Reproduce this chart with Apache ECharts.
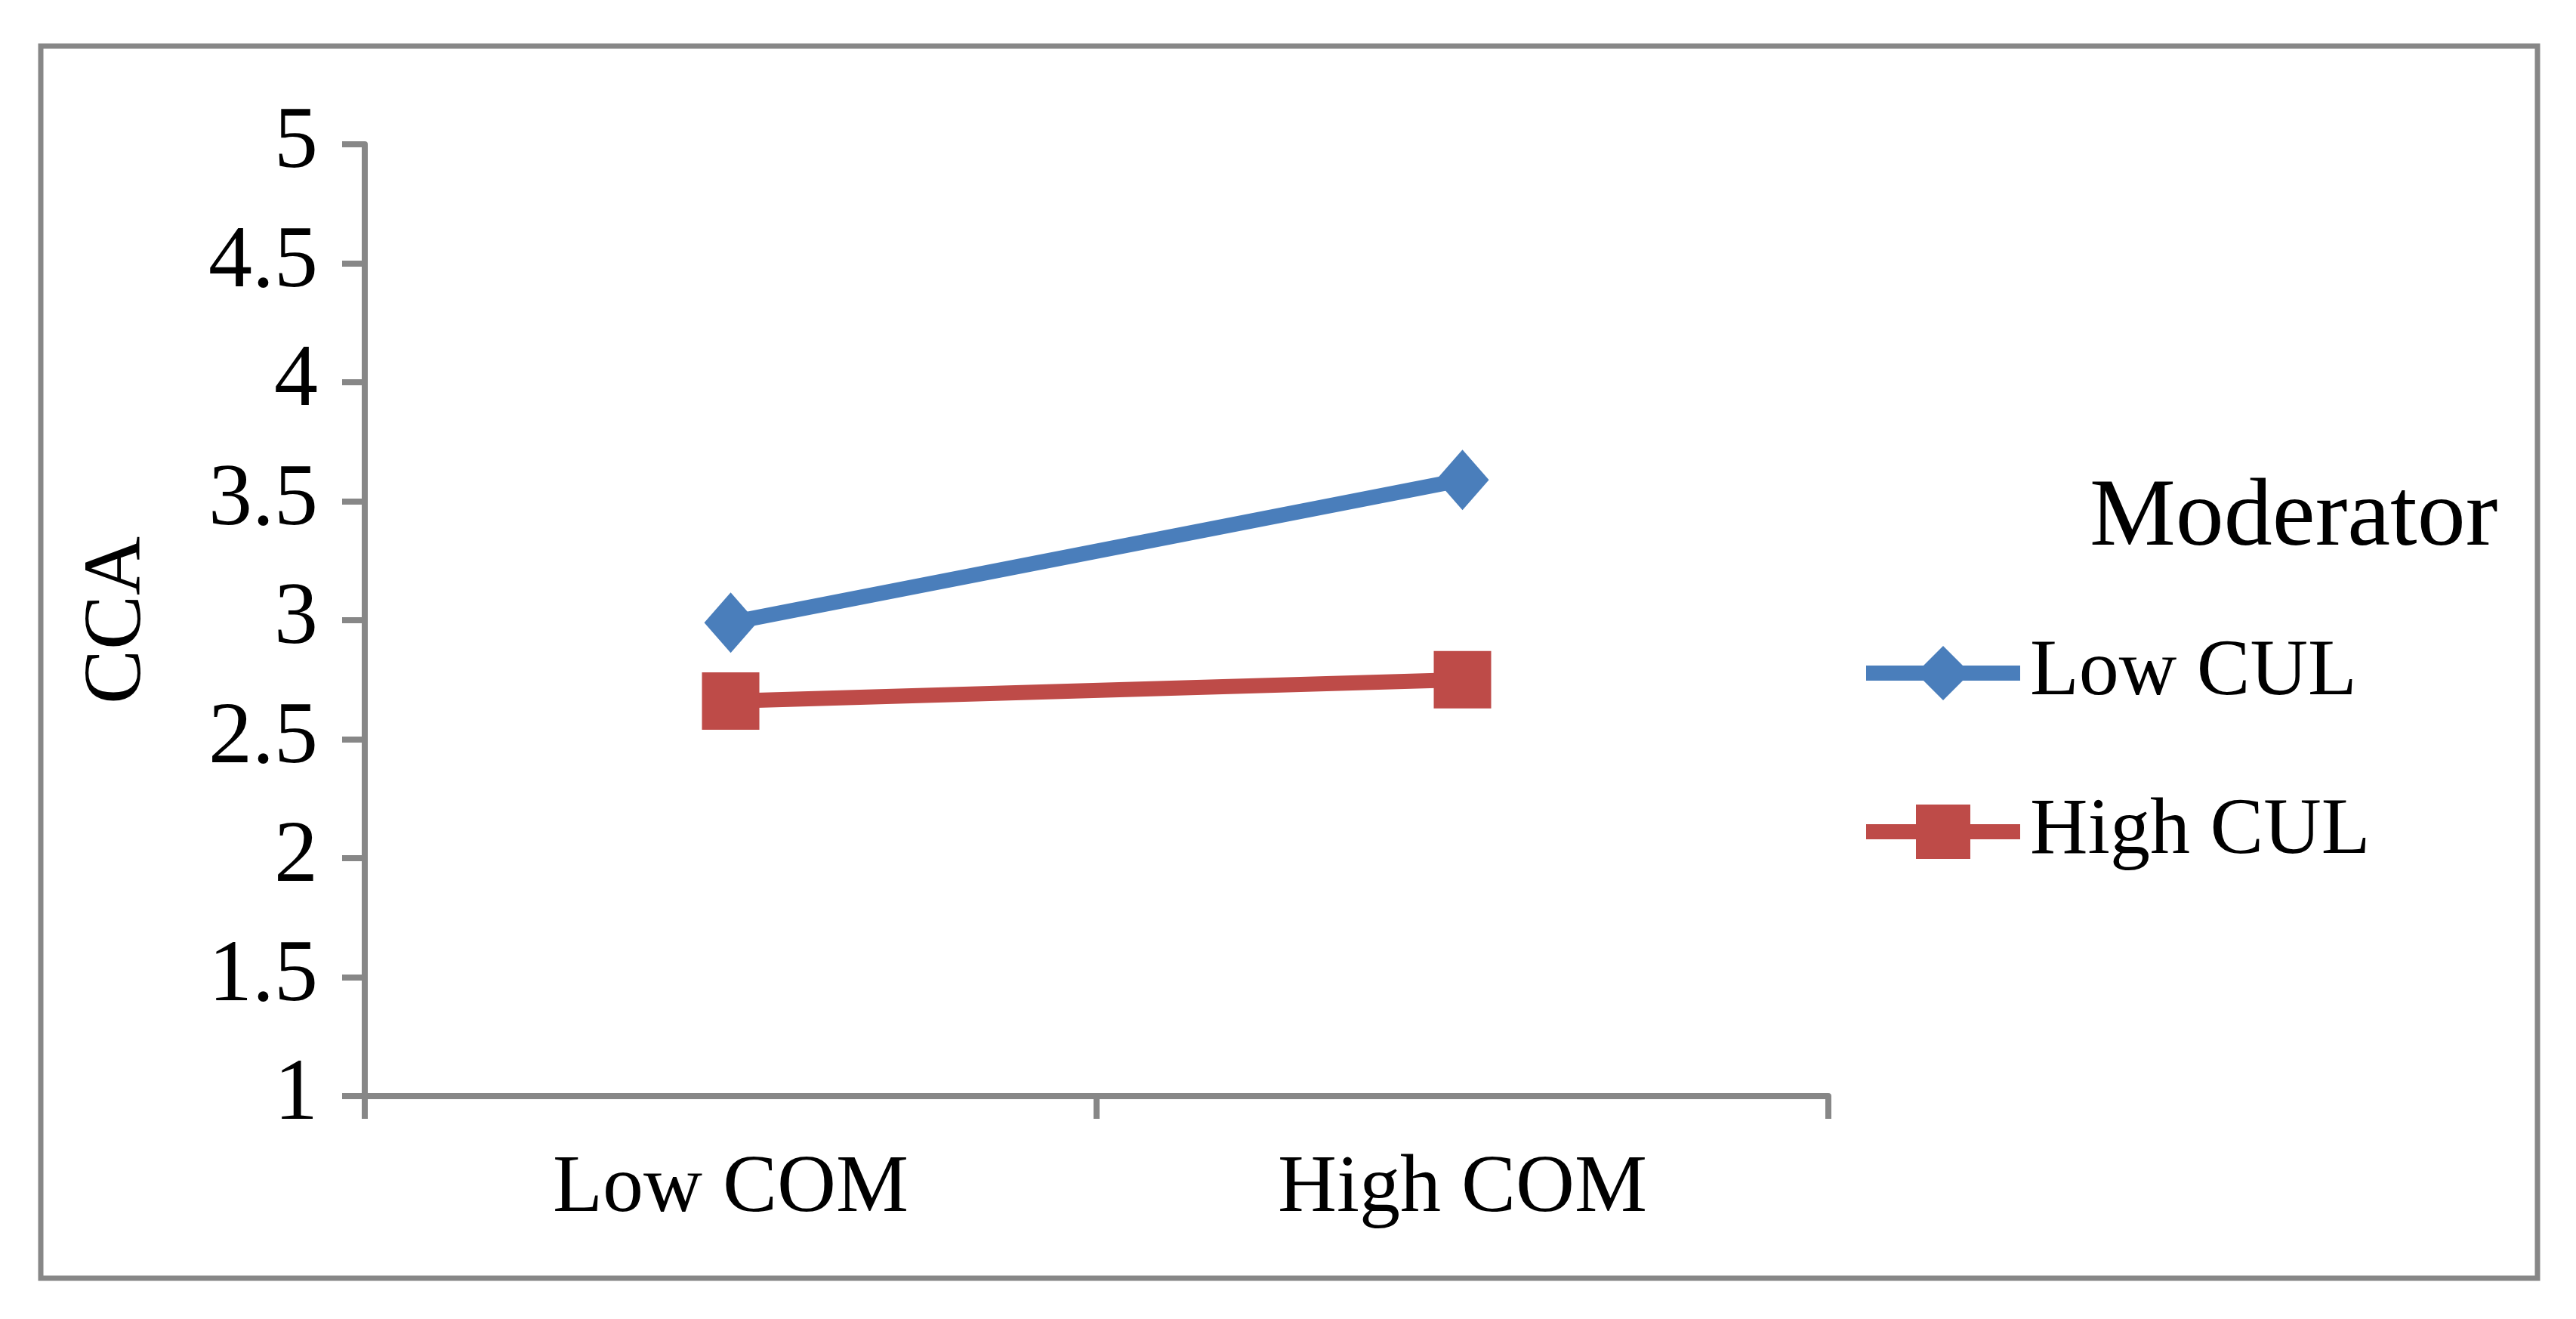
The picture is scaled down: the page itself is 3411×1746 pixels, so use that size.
<!DOCTYPE html>
<html>
<head>
<meta charset="utf-8">
<style>
html,body{margin:0;padding:0;background:#fff;}
#chart{width:3411px;height:1746px;}
</style>
<script src="https://cdn.jsdelivr.net/npm/echarts@6/dist/echarts.min.js"></script>
</head>
<body>
<div id="chart"></div>
<script>
const categories = ['Low COM', 'High COM'];
const lowCUL = [2.99, 3.59];
const highCUL = [2.66, 2.75];
const seriesNames = ['Low CUL', 'High CUL'];
const legendTitle = 'Moderator';
const yAxisName = 'CCA';

const FONT = '"Liberation Serif", "DejaVu Serif", serif';
const GRAY = '#878787';
const BLUE = '#4A7EBB';
const RED = '#BE4B48';

const chart = echarts.init(document.getElementById('chart'));
chart.setOption({
  backgroundColor: '#ffffff',
  animation: false,
  graphic: [{
    type: 'rect',
    shape: { x: 54, y: 61, width: 3306, height: 1631 },
    style: { fill: 'none', stroke: GRAY, lineWidth: 7 },
    z: 0
  }],
  title: {
    text: legendTitle,
    left: 2762,
    top: 618,
    textStyle: { fontFamily: FONT, fontSize: 128, fontWeight: 'normal', color: '#000' }
  },
  legend: {
    orient: 'vertical',
    left: 2456,
    top: 833,
    itemWidth: 204,
    itemHeight: 90,
    itemGap: 104,
    lineStyle: { width: 20 },
    textStyle: { fontFamily: FONT, fontSize: 106, color: '#000', padding: [0,0,0,8] },
    data: seriesNames
  },
  grid: { left: 483, top: 191, width: 1938, height: 1260, containLabel: false },
  xAxis: {
    type: 'category',
    data: categories,
    boundaryGap: true,
    axisLine: { lineStyle: { color: GRAY, width: 8 } },
    axisTick: { show: true, length: 30, alignWithLabel: false, lineStyle: { color: GRAY, width: 8 } },
    axisLabel: { fontFamily: FONT, fontSize: 108, color: '#000', margin: 70 },
    splitLine: { show: false }
  },
  yAxis: {
    type: 'value',
    min: 1, max: 5, interval: 0.5,
    name: yAxisName,
    nameLocation: 'middle',
    nameGap: 272,
    nameRotate: 90,
    nameTextStyle: { fontFamily: FONT, fontSize: 108, color: '#000' },
    axisLine: { show: true, lineStyle: { color: GRAY, width: 8 } },
    axisTick: { show: true, length: 30, lineStyle: { color: GRAY, width: 8 } },
    axisLabel: { fontFamily: FONT, fontSize: 116, color: '#000', margin: 62 },
    splitLine: { show: false }
  },
  series: [
    {
      name: seriesNames[0], type: 'line', data: lowCUL,
      symbol: 'diamond', symbolSize: [70, 80],
      lineStyle: { color: BLUE, width: 20 },
      itemStyle: { color: BLUE },
      z: 3
    },
    {
      name: seriesNames[1], type: 'line', data: highCUL,
      symbol: 'rect', symbolSize: [76, 76],
      lineStyle: { color: RED, width: 20 },
      itemStyle: { color: RED },
      z: 2
    }
  ]
});
</script>
</body>
</html>
